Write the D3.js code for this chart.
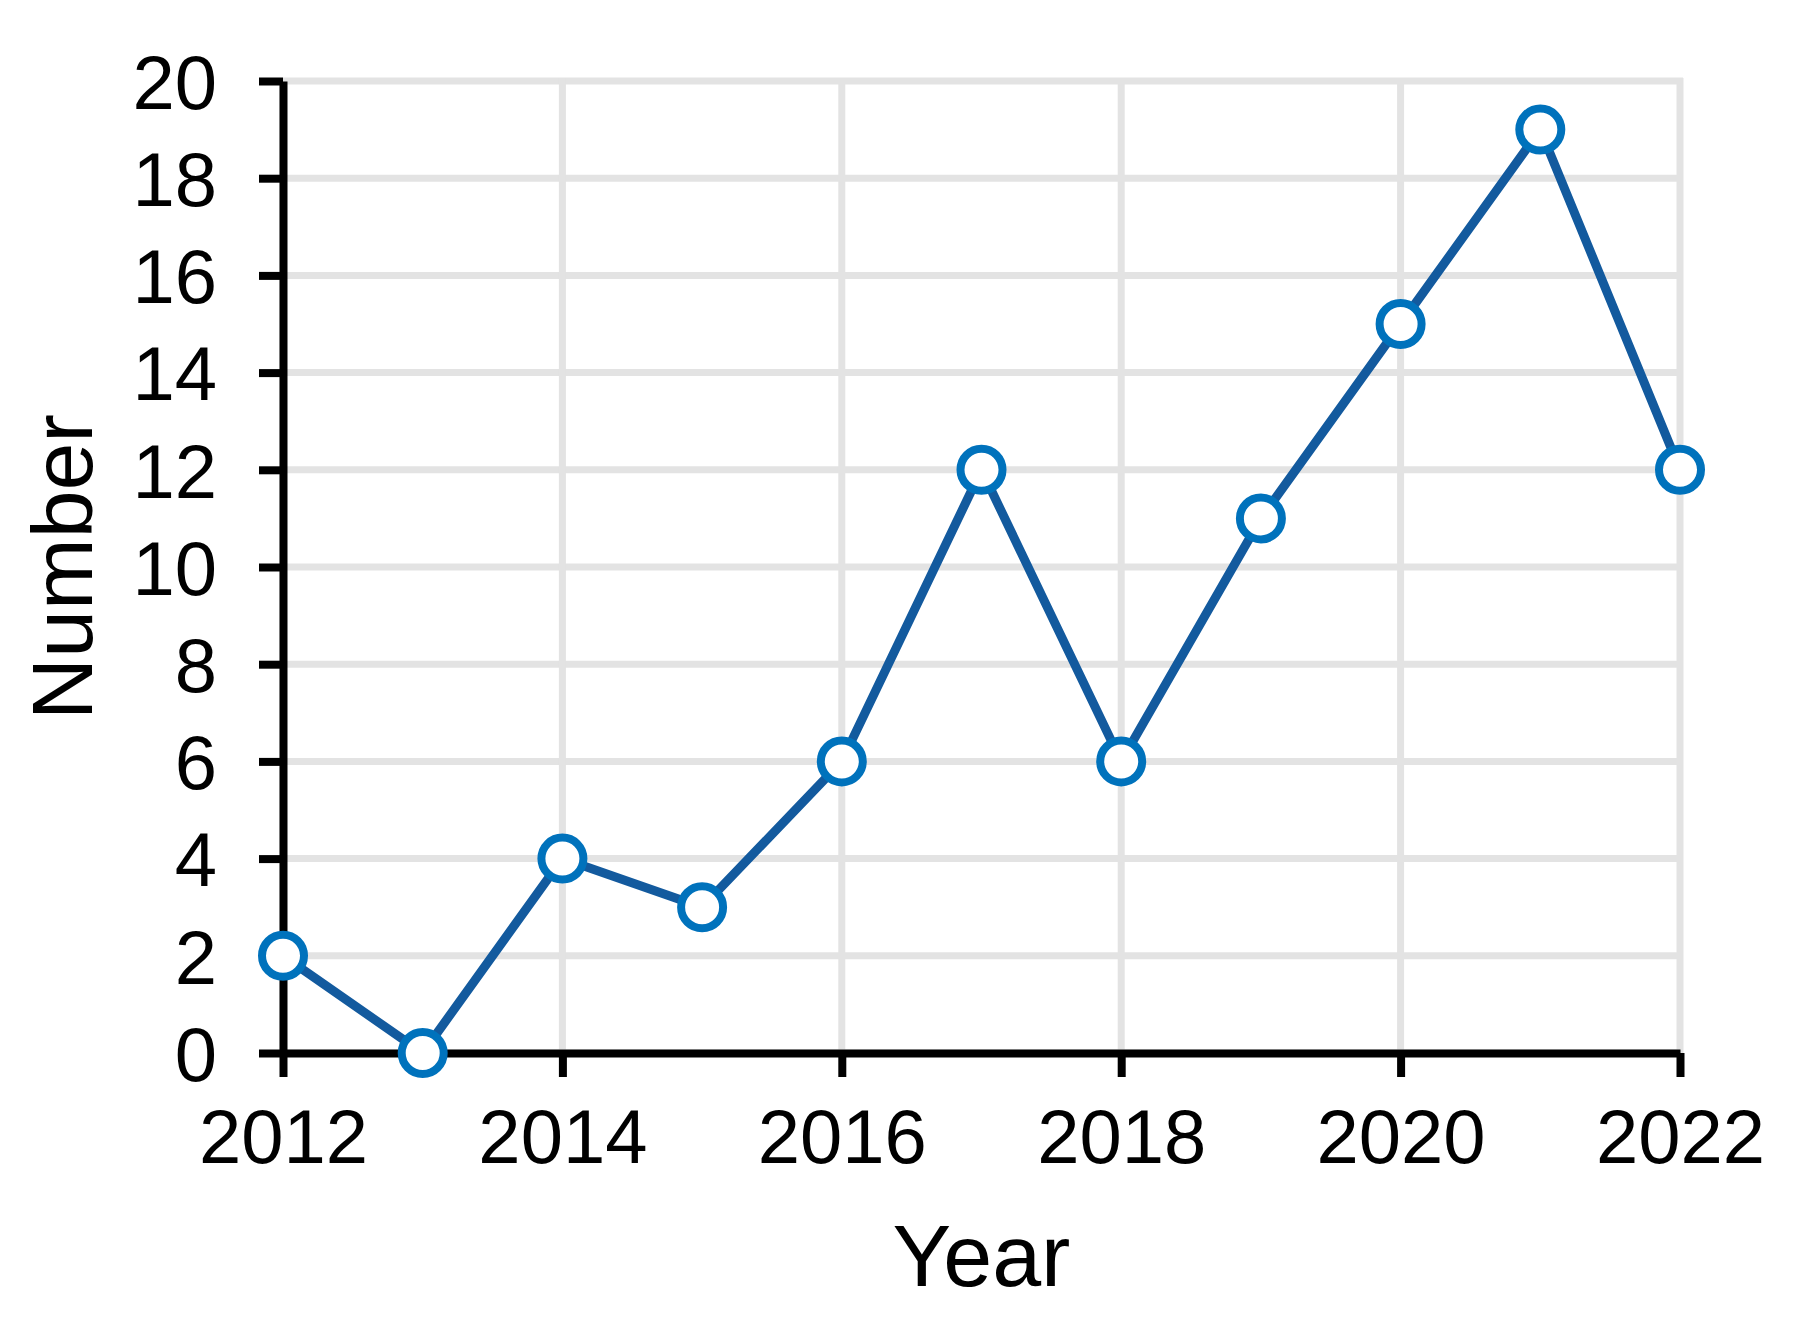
<!DOCTYPE html>
<html lang="en">
<head>
<meta charset="UTF-8">
<title>Number by Year</title>
<script src="https://d3js.org/d3.v7.min.js"></script>
<style>
    body { margin: 0; background: #fff; }
    text { font-family: "Liberation Sans", Arial, sans-serif; fill: #000; }
</style>
</head>
<body>
<svg width="1796" height="1318"></svg>
<script>
    // data
    var years = [2012, 2013, 2014, 2015, 2016, 2017, 2018, 2019, 2020, 2021, 2022];
    var counts = [2, 0, 4, 3, 6, 12, 6, 11, 15, 19, 12];
    var xTicks = [2012, 2014, 2016, 2018, 2020, 2022];
    var yTicks = [0, 2, 4, 6, 8, 10, 12, 14, 16, 18, 20];

    var svg = d3.select("svg");
    var plot = { left: 283, right: 1680, top: 81, bottom: 1053 };

    var x = d3.scaleLinear().domain([2012, 2022]).range([plot.left, plot.right]);
    var y = d3.scaleLinear().domain([0, 20]).range([plot.bottom, plot.top]);

    // gridlines
    var grid = svg.append("g").attr("stroke", "#e3e3e3").attr("stroke-width", 7);
    grid.selectAll(".hg").data(yTicks).enter().append("line")
        .attr("x1", plot.left).attr("x2", plot.right + 3)
        .attr("y1", function(d){ return y(d); }).attr("y2", function(d){ return y(d); });
    grid.selectAll(".vg").data(xTicks).enter().append("line")
        .attr("y1", plot.top - 3).attr("y2", plot.bottom)
        .attr("x1", function(d){ return x(d); }).attr("x2", function(d){ return x(d); });

    // axes
    var xAxis = d3.axisBottom(x).tickValues(xTicks).tickFormat(d3.format("d"))
        .tickSizeInner(24).tickSizeOuter(0).tickPadding(32);
    var yAxis = d3.axisLeft(y).tickValues(yTicks)
        .tickSizeInner(24).tickSizeOuter(0).tickPadding(42);

    var gx = svg.append("g").attr("transform", "translate(0," + plot.bottom + ")").call(xAxis);
    var gy = svg.append("g").attr("transform", "translate(" + plot.left + ",0)").call(yAxis);

    [gx, gy].forEach(function(g){
        g.select(".domain").attr("stroke", "#000").attr("stroke-width", 8);
        g.selectAll(".tick line").attr("stroke", "#000").attr("stroke-width", 8);
        g.selectAll(".tick text").attr("font-size", 76).attr("fill", "#000")
            .style("font-family", "'Liberation Sans', Arial, sans-serif");
    });
    gy.selectAll(".tick text").attr("dy", "0.36em");
    gx.selectAll(".tick text").attr("dy", "0.71em");

    // axis titles
    svg.append("text")
        .attr("x", (plot.left + plot.right) / 2).attr("y", 1286)
        .attr("text-anchor", "middle").attr("font-size", 88)
        .text("Year");
    svg.append("text")
        .attr("transform", "translate(92," + (plot.top + plot.bottom) / 2 + ") rotate(-90)")
        .attr("text-anchor", "middle").attr("font-size", 86)
        .text("Number");

    // line + markers
    var pts = years.map(function(yr, i){ return { year: yr, value: counts[i] }; });
    var line = d3.line()
        .x(function(d){ return x(d.year); })
        .y(function(d){ return y(d.value); });

    svg.append("path").datum(pts)
        .attr("d", line)
        .attr("fill", "none")
        .attr("stroke", "#135a9e")
        .attr("stroke-width", 9)
        .attr("stroke-linejoin", "round");

    svg.selectAll(".pt").data(pts).enter().append("circle")
        .attr("cx", function(d){ return x(d.year); })
        .attr("cy", function(d){ return y(d.value); })
        .attr("r", 21)
        .attr("fill", "#fff")
        .attr("stroke", "#0072bc")
        .attr("stroke-width", 8);
</script>
</body>
</html>
